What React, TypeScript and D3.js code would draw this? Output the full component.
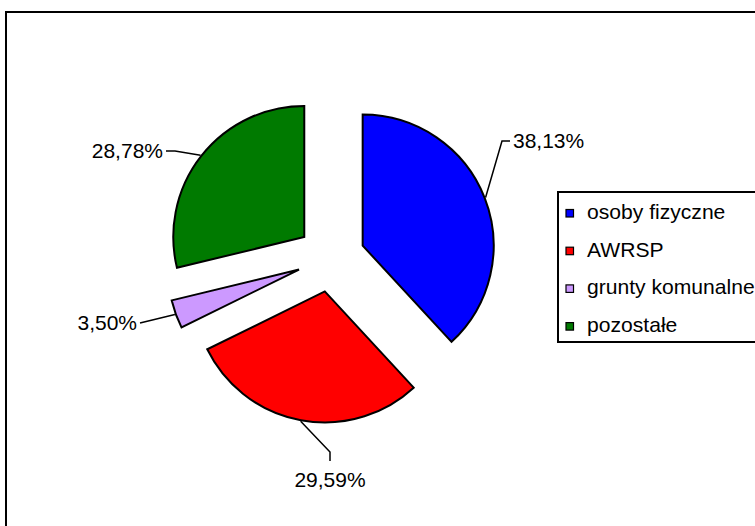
import React from "react";
import * as d3 from "d3";

const categories = ["osoby fizyczne", "AWRSP", "grunty komunalne", "pozostałe"];
const values = [38.13, 29.59, 3.5, 28.78];
const labels = ["38,13%", "29,59%", "3,50%", "28,78%"];
const colors = ["#0000ff", "#ff0000", "#cc99ff", "#007a00"];

// layout for leader lines / labels (elbow point, label anchor)
const labelLayout = [
  { elbow: [502, 141], tip: [510, 141], text: [513, 148], anchor: "start" },
  { elbow: [330, 452], tip: [330, 461], text: [330, 487], anchor: "middle" },
  { elbow: [140, 323], tip: [140, 323], text: [137, 330], anchor: "end" },
  { elbow: [175, 151], tip: [166, 151], text: [163, 158], anchor: "end" },
];

export default function App() {
  const W = 755;
  const H = 526;
  const cx = 331;
  const cy = 258;
  const R = 131;
  const explode = 34;

  const pie = d3
    .pie<number>()
    .sort(null)
    .value((d) => d)
    .startAngle(0)
    .endAngle(2 * Math.PI);
  const arcs = pie(values);
  const arcGen = d3.arc<d3.PieArcDatum<number>>().innerRadius(0).outerRadius(R);

  const font = "Arial, 'Liberation Sans', sans-serif";

  return (
    <svg
      width={W}
      height={H}
      style={{ position: "absolute", left: 0, top: 0, background: "#fff" }}
    >
      <rect x={0} y={0} width={W} height={H} fill="#fff" />
      <rect x={6} y={12} width={W + 20} height={H + 20} fill="none" stroke="#000" strokeWidth={2} />
      {arcs.map((a, i) => {
        const mid = (a.startAngle + a.endAngle) / 2;
        const ox = cx + explode * Math.sin(mid);
        const oy = cy - explode * Math.cos(mid);
        const sx = ox + (R + 1) * Math.sin(mid);
        const sy = oy - (R + 1) * Math.cos(mid);
        const L = labelLayout[i];
        return (
          <g key={categories[i]}>
            <path
              d={arcGen(a) || ""}
              transform={`translate(${ox},${oy})`}
              fill={colors[i]}
              stroke="#000"
              strokeWidth={2}
              strokeLinejoin="miter"
            />
            <polyline
              points={`${sx},${sy} ${L.elbow[0]},${L.elbow[1]} ${L.tip[0]},${L.tip[1]}`}
              fill="none"
              stroke="#000"
              strokeWidth={1.5}
            />
            <text
              x={L.text[0]}
              y={L.text[1]}
              textAnchor={L.anchor as any}
              fontFamily={font}
              fontSize={21}
              fill="#000"
            >
              {labels[i]}
            </text>
          </g>
        );
      })}
      <rect x={558} y={192} width={220} height={150} fill="#fff" stroke="#000" strokeWidth={2} />
      {categories.map((c, i) => {
        const by = 219 + i * 37.7;
        return (
          <g key={c}>
            <rect x={566} y={by - 9.5} width={7.5} height={7.5} fill={colors[i]} stroke="#000" strokeWidth={1.2} />
            <text x={587} y={by} fontFamily={font} fontSize={21.1} fill="#000">
              {c}
            </text>
          </g>
        );
      })}
    </svg>
  );
}
